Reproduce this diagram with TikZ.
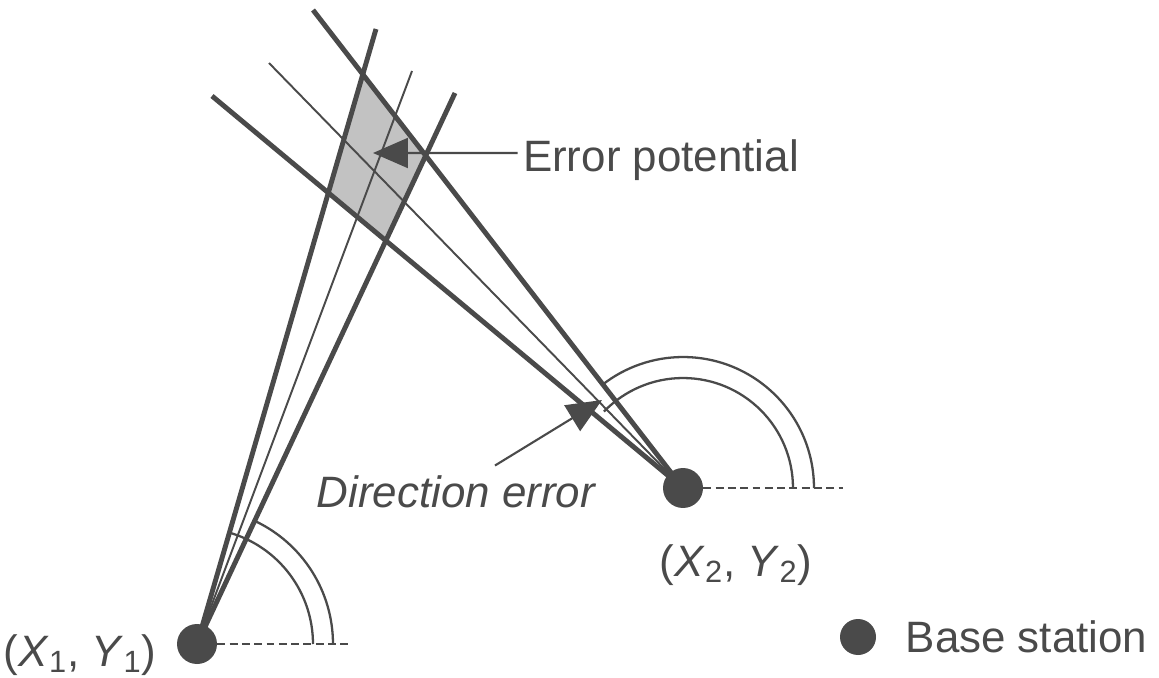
\documentclass[tikz,border=0pt]{standalone}
\usepackage{fontspec}
\setmainfont{Liberation Sans}
\usepackage{xcolor}
\usetikzlibrary{arrows.meta,positioning}
\definecolor{inkgray}{HTML}{4A4A4A}
\definecolor{shadegray}{HTML}{C2C2C2}
\tikzset{
  beam/.style={inkgray, line width=2.8pt},
  midray/.style={inkgray, line width=1.1pt},
  sector/.style={inkgray, line width=1.3pt},
  refline/.style={inkgray, line width=1.1pt, dash pattern=on 4.5pt off 2.5pt},
  station/.style={circle, fill=inkgray, minimum size=0.8cm, inner sep=0pt},
  note/.style={text=inkgray, font=\fontsize{25}{30}\selectfont, inner sep=0pt},
  pointer/.style={inkgray, line width=1.2pt, -{Triangle[length=0.7cm,width=0.6cm]}}
}

\begin{document}
\begin{tikzpicture}[x=0.02cm, y=0.02cm]
  \useasboundingbox (0,0) rectangle (1159,677);
  \coordinate (r1a) at (376,648);
  \coordinate (r1b) at (412,606);
  \coordinate (r1c) at (455,584);
  \coordinate (r2a) at (313,667);
  \coordinate (r2b) at (269,614);
  \coordinate (r2c) at (212,581);
  \node[station] (bs1) at (197,33) {};
  \node[station] (bs2) at (683,189) {};

  % overlap of the two bearing wedges
  \fill[shadegray] (intersection of bs1.center--r1a and bs2.center--r2a)
    -- (intersection of bs1.center--r1c and bs2.center--r2a)
    -- (intersection of bs1.center--r1c and bs2.center--r2c)
    -- (intersection of bs1.center--r1a and bs2.center--r2c) -- cycle;

  \draw[refline] (bs1.east) -- ++(133,0);
  \draw[refline] (bs2.east) -- ++(140,0);
  \foreach \r/\a in {2.32/74, 2.72/65}
    \draw[sector] (bs1.center) ++(\r cm,0) arc[start angle=0, end angle=\a, radius=\r cm];
  \foreach \r/\a in {2.2/136, 2.62/128}
    \draw[sector] (bs2.center) ++(\r cm,0) arc[start angle=0, end angle=\a, radius=\r cm];

  \draw[beam] (bs1.center) -- (r1a);
  \draw[midray] (bs1.center) -- (r1b);
  \draw[beam] (bs1.center) -- (r1c);
  \draw[beam] (bs2.center) -- (r2a);
  \draw[midray] (bs2.center) -- (r2b);
  \draw[beam] (bs2.center) -- (r2c);

  \node[note] (p1) at (80,22) {(\textit{X}\textsubscript{1}, \textit{Y}\textsubscript{1})};
  \node[note] (p2) at (736,112) {(\textit{X}\textsubscript{2}, \textit{Y}\textsubscript{2})};

  \node[note] (ep) at (661,517) {Error potential};
  \coordinate (eptip) at (373,524);
  \draw[pointer] ([xshift=-0.1cm,yshift=0.14cm]ep.west) -- (eptip);

  \node[note, font=\fontsize{25}{30}\selectfont\itshape] (de) at (456,185) {Direction error};
  \coordinate (detip) at (602,277);
  \draw[pointer] ([xshift=0.78cm,yshift=0.2cm]de.north) -- (detip);

  % legend
  \node[station, minimum size=0.72cm] (key) at (858,40) {};
  \node[note, right=0.58cm of key] (keytext) {Base station};
\end{tikzpicture}
\end{document}
